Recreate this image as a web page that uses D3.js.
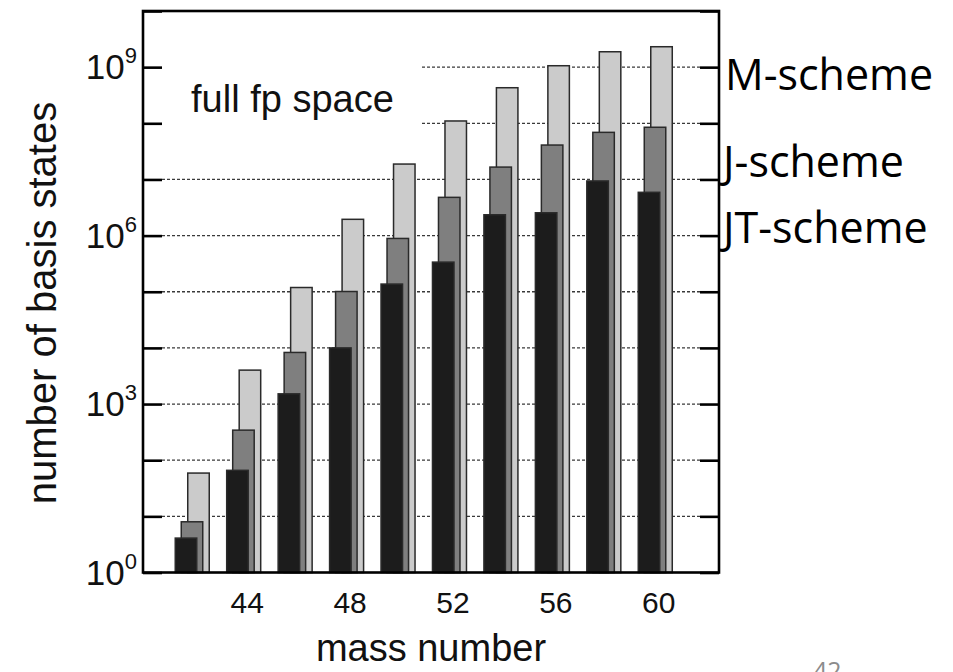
<!DOCTYPE html>
<html><head><meta charset="utf-8">
<script src="https://cdn.jsdelivr.net/npm/d3@7"></script>
<style>body{margin:0;background:#fff}svg{display:block}</style>
</head><body>
<svg id="c" width="953" height="672"></svg>
<script>
// ---- data ----
const massNumbers = [42, 44, 46, 48, 50, 52, 54, 56, 58, 60];
const mScheme  = [59, 4020, 1.19e5, 1.95e6, 1.88e7, 1.10e8, 4.3e8, 1.06e9, 1.88e9, 2.31e9];
const jScheme  = [8, 343, 8300, 1.01e5, 8.9e5, 4.8e6, 1.66e7, 4.1e7, 6.9e7, 8.5e7];
const jtScheme = [4.1, 66, 1520, 1.0e4, 1.37e5, 3.37e5, 2.35e6, 2.55e6, 9.4e6, 5.9e6];
const seriesNames = ["M-scheme", "J-scheme", "JT-scheme"];
const xTickValues = [44, 48, 52, 56, 60];
const yTickExponents = [0, 1, 2, 3, 4, 5, 6, 7, 8, 9, 10];
const yLabelExponents = [0, 3, 6, 9];
const xTitle = "mass number";
const yTitle = "number of basis states";
const panelLabel = "full fp space";
const pageNumber = "42";

// ---- layout ----
const svg = d3.select("#c");
const L = 143, R = 719, T = 11, B = 572.5;
const x = d3.scaleLinear().domain([40, 62.4]).range([143.8, 720]);
const y = d3.scaleLog().domain([1, 1e10]).range([B, T]);
const tickLen = 19;
const barW = 21.5;
const fontArial = "'Liberation Sans', Arial, Helvetica, sans-serif";
const fontSlide = "'Open Sans', 'Noto Sans', sans-serif";

// gridlines (dashed) at decades
const gridExps = yTickExponents.filter(e => e >= 1 && e <= 9);
svg.append("g").selectAll("line").data(gridExps).join("line")
  .attr("x1", L + tickLen).attr("x2", R - tickLen)
  .attr("y1", e => y(Math.pow(10, e))).attr("y2", e => y(Math.pow(10, e)))
  .attr("stroke", "#3a3a3a").attr("stroke-width", 1.3)
  .attr("stroke-dasharray", "3,2");

// opaque key box behind "full fp space"
svg.append("rect").attr("x", L + tickLen).attr("y", T + 2)
  .attr("width", 422 - (L + tickLen)).attr("height", 137).attr("fill", "#fff");

// bars
const series = [
  {vals: mScheme,  fill: "#cbcbcb", off: -7.5},
  {vals: jScheme,  fill: "#7f7f7f", off: -14},
  {vals: jtScheme, fill: "#1c1c1c", off: -20}
];
series.forEach(s => {
  svg.append("g").selectAll("rect").data(massNumbers).join("rect")
    .attr("x", (m) => x(m) + s.off)
    .attr("width", barW)
    .attr("y", (m, i) => y(s.vals[i]))
    .attr("height", (m, i) => y(1) - y(s.vals[i]))
    .attr("fill", s.fill)
    .attr("stroke", "#2a2a2a").attr("stroke-width", 1.5);
});

// y axes (inner ticks, left and right)
const yAxisL = d3.axisLeft(y).tickValues(yTickExponents.map(e => Math.pow(10, e)))
  .tickSizeInner(-tickLen).tickSizeOuter(0).tickFormat("");
const gyl = svg.append("g").attr("transform", `translate(${L},0)`).call(yAxisL);
const yAxisR = d3.axisRight(y).tickValues(yTickExponents.map(e => Math.pow(10, e)))
  .tickSizeInner(-tickLen).tickSizeOuter(0).tickFormat("");
const gyr = svg.append("g").attr("transform", `translate(${R},0)`).call(yAxisR);
[gyl, gyr].forEach(g => {
  g.select(".domain").remove();
  g.selectAll(".tick line").attr("stroke", "#000").attr("stroke-width", 2.6);
});

// y tick labels 10^n
const ylab = svg.append("g").selectAll("text").data(yLabelExponents).join("text")
  .attr("x", 137).attr("y", e => y(Math.pow(10, e)) + 12)
  .attr("text-anchor", "end").attr("font-family", fontArial).attr("fill", "#111");
ylab.append("tspan").attr("font-size", 35).text("10");
ylab.append("tspan").attr("font-size", 22).attr("dy", -16).text(e => e);

// x axis (labels only)
const xAxis = d3.axisBottom(x).tickValues(xTickValues).tickSize(0).tickPadding(0).tickFormat(d3.format("d"));
const gx = svg.append("g").attr("transform", `translate(0,${B})`).call(xAxis);
gx.select(".domain").remove();
gx.selectAll(".tick text").attr("font-size", 30).attr("font-family", fontArial)
  .attr("fill", "#111").attr("dy", null).attr("y", 40);

// frame
svg.append("rect").attr("x", L).attr("y", T).attr("width", R - L).attr("height", B - T)
  .attr("fill", "none").attr("stroke", "#000").attr("stroke-width", 2.6);

// panel label
svg.append("text").attr("x", 191).attr("y", 112).attr("font-family", fontArial)
  .attr("font-size", 38).attr("fill", "#111").text(panelLabel);

// axis titles
svg.append("text").attr("x", (L + R) / 2).attr("y", 661).attr("text-anchor", "middle")
  .attr("font-family", fontArial).attr("font-size", 38).attr("fill", "#111").text(xTitle);
svg.append("text").attr("transform", `translate(56,${(101 + 505) / 2}) rotate(-90)`)
  .attr("text-anchor", "middle").attr("font-family", fontArial).attr("font-size", 40)
  .attr("fill", "#111").text(yTitle);

// scheme labels at right
const schemeBaselines = [90, 177, 243];
svg.append("g").selectAll("text").data(seriesNames).join("text")
  .attr("x", (d, i) => i === 0 ? 725 : 723)
  .attr("y", (d, i) => schemeBaselines[i])
  .attr("font-family", fontSlide).attr("font-size", 43).attr("fill", "#000").text(d => d);

// page number (partly cut off, as in the slide)
svg.append("text").attr("x", 813).attr("y", 680).attr("font-family", fontSlide)
  .attr("font-size", 25).attr("fill", "#8c8c8c").text(pageNumber);
</script>
</body></html>
